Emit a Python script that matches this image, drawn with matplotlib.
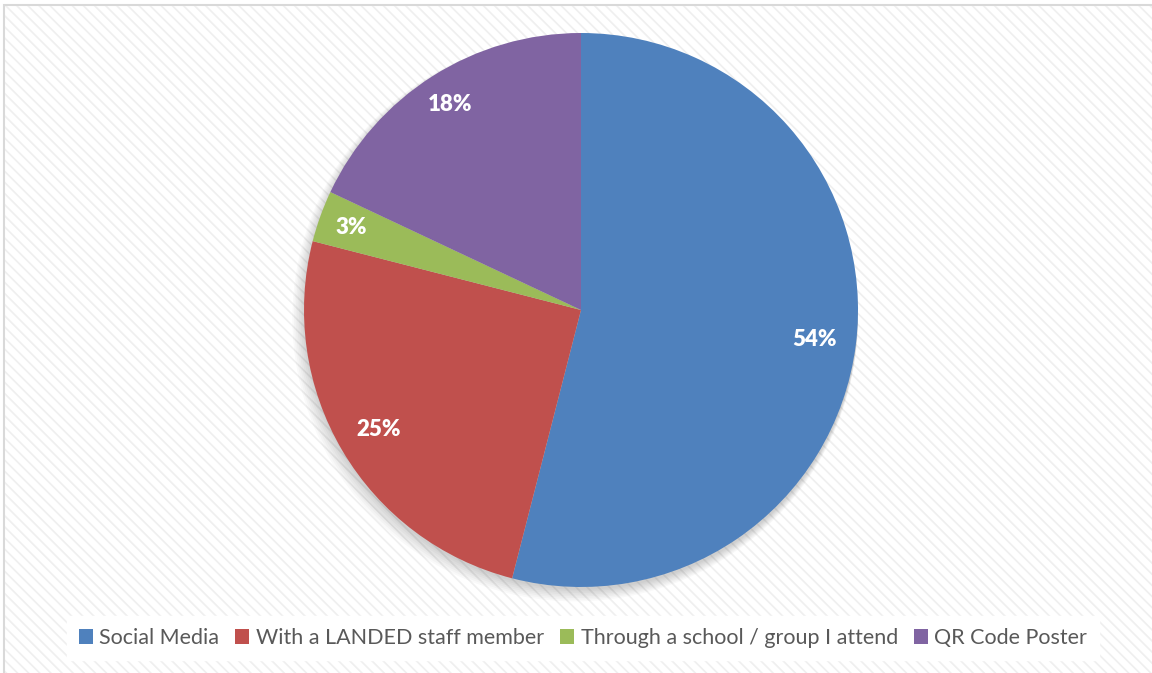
import matplotlib
matplotlib.use("Agg")
import matplotlib.pyplot as plt
from matplotlib.patches import Rectangle, Circle
import numpy as np

categories = ["Social Media", "With a LANDED staff member",
              "Through a school / group I attend", "QR Code Poster"]
shares = [54, 25, 3, 18]
colors = ["#4F81BD", "#C0504D", "#9BBB59", "#8064A2"]
label_dist = [0.85, 0.85, 0.88, 0.88]

W, H = 1152, 673
plt.rcParams["hatch.linewidth"] = 1.2
fig = plt.figure(figsize=(W / 100, H / 100), dpi=100)
fig.patch.set_facecolor("white")

# chart area: faint diagonal texture with a light grey frame
bg = fig.add_axes([0, 0, 1, 1])
bg.set_xlim(0, W)
bg.set_ylim(H, 0)
bg.axis("off")
bg.add_patch(Rectangle((4, 5), W + 10, H + 10, facecolor="white",
                       edgecolor="#d9d9d9", linewidth=1.5))
bg.add_patch(Rectangle((5, 6), W + 10, H + 10, facecolor="none",
                       edgecolor="#efefef", hatch="\\\\\\", linewidth=0))

# pie axes
cx, cy, r = 581, 310, 277
ax = fig.add_axes([(cx - r) / W, 1 - (cy + r) / H, 2 * r / W, 2 * r / H])

wedges, _ = ax.pie(shares, colors=colors, startangle=90, counterclock=False,
                   radius=1.0, wedgeprops=dict(linewidth=0))
ax.set_xlim(-1, 1)
ax.set_ylim(-1, 1)
ax.set_aspect("equal")
ax.axis("off")
for w in wedges:
    w.set_zorder(2)

# soft shadow under the pie
for i in range(8):
    ax.add_patch(Circle((-0.003 * i, -0.01 - 0.003 * i), 1.0 + 0.003 * i,
                        facecolor="#000000", alpha=0.025, linewidth=0,
                        zorder=0, clip_on=False))

for w, val, d in zip(wedges, shares, label_dist):
    mid = np.deg2rad((w.theta1 + w.theta2) / 2)
    ax.text(d * np.cos(mid), d * np.sin(mid), f"{val}%", color="white",
            fontsize=16, fontweight="heavy", family="Lato",
            ha="center", va="center", zorder=3)

# legend
leg = fig.legend(wedges, categories, loc="center",
                 bbox_to_anchor=(583 / W, 1 - 638 / H),
                 ncol=4, frameon=True, fancybox=False, framealpha=1,
                 edgecolor="white", facecolor="white",
                 prop=dict(family="Lato", size=15.5),
                 handlelength=0.65, handleheight=0.65, handletextpad=0.3,
                 columnspacing=0.75, borderpad=0.55)
for t in leg.get_texts():
    t.set_color("#595959")

fig.savefig("out.png", dpi=100, facecolor="white")
